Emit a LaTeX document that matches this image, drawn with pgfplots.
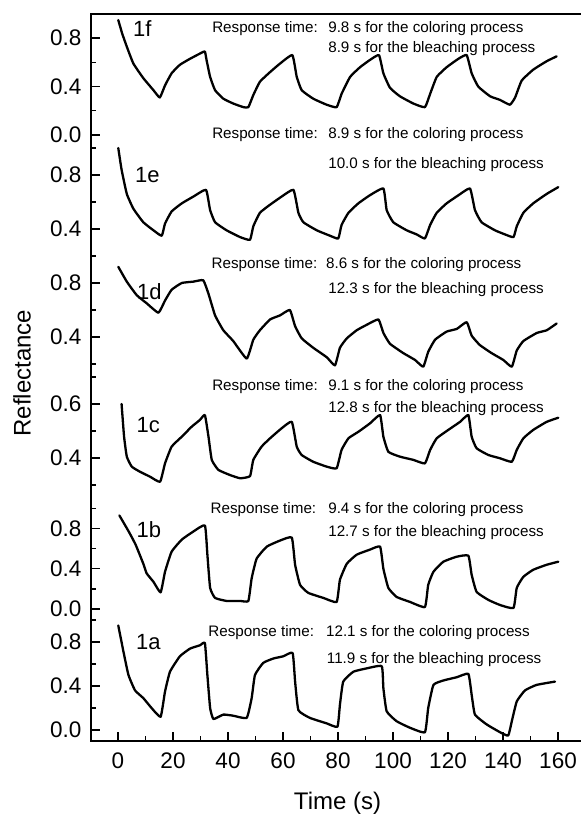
\documentclass[border=0pt]{standalone}
\usepackage{fontspec}
\setmainfont{Liberation Sans}
\usepackage{pgfplots}
\usepackage{pgfplotstable}
\pgfplotsset{compat=1.18}

\newcommand\annot{\fontsize{15.2bp}{18bp}\selectfont}
\newcommand\panel{\fontsize{22bp}{25bp}\selectfont}
\tikzset{trace/.style={black, solid, line width=2.3bp, line join=round, line cap=round, smooth, tension=0.25, mark=none}}

% reflectance vs. time, one table per film
\pgfplotstableread{
t r
0.1 0.95
1.5 0.84
3.2 0.73
5.6 0.59
9.2 0.47
12.9 0.37
15.2 0.31
17.1 0.41
19.5 0.51
22.5 0.58
26.2 0.63
30.4 0.68
31.6 0.69
32.2 0.62
33.5 0.48
35.3 0.37
38.3 0.30
41.9 0.26
45.6 0.23
47.4 0.23
49.2 0.33
51.6 0.44
55.3 0.52
58.9 0.59
63.4 0.66
65.0 0.48
66.8 0.37
71.0 0.30
75.9 0.25
79.5 0.23
81.3 0.34
84.4 0.48
88.0 0.56
91.6 0.62
94.9 0.66
96.5 0.51
98.9 0.39
102.5 0.32
107.4 0.26
111.6 0.23
113.5 0.34
115.9 0.48
119.5 0.56
123.8 0.63
126.8 0.66
128.6 0.51
131.0 0.40
135.3 0.32
138.9 0.29
142.5 0.25
144.4 0.31
146.8 0.45
151.0 0.54
155.9 0.61
159.5 0.65
}\dataF

\pgfplotstableread{
t r
0.1 1.00
1.3 0.84
3.2 0.66
5.6 0.55
9.2 0.45
12.9 0.39
15.9 0.35
17.1 0.44
19.5 0.53
23.2 0.59
27.4 0.64
32.0 0.69
33.5 0.54
35.3 0.45
39.5 0.39
44.4 0.34
48.0 0.32
49.2 0.42
51.6 0.52
55.3 0.58
59.5 0.64
63.8 0.69
65.6 0.52
67.4 0.45
72.3 0.39
77.1 0.35
80.1 0.33
81.3 0.43
83.8 0.52
87.4 0.59
91.6 0.65
96.5 0.70
97.7 0.54
100.1 0.45
105.0 0.39
108.6 0.36
111.6 0.33
113.5 0.43
115.9 0.52
119.5 0.59
123.8 0.65
128.0 0.70
129.8 0.54
132.2 0.45
137.1 0.39
140.7 0.36
143.8 0.34
145.0 0.42
147.4 0.52
151.0 0.59
155.9 0.66
160.1 0.71
}\dataE

\pgfplotstableread{
t r
0.1 0.92
3.2 0.81
6.8 0.71
10.4 0.65
14.7 0.58
17.1 0.67
19.5 0.75
23.2 0.80
27.4 0.81
31.0 0.82
32.9 0.72
35.3 0.56
38.3 0.45
41.9 0.37
46.8 0.24
49.2 0.38
51.6 0.45
55.3 0.53
58.9 0.56
62.5 0.60
64.4 0.48
66.8 0.39
71.0 0.32
75.9 0.25
78.9 0.19
80.7 0.32
83.2 0.39
86.8 0.45
90.4 0.49
94.7 0.53
96.5 0.43
98.9 0.35
103.8 0.28
108.0 0.23
111.0 0.18
112.8 0.29
115.3 0.38
119.5 0.44
123.2 0.46
126.8 0.51
128.6 0.41
131.6 0.34
135.9 0.28
140.1 0.23
143.2 0.18
145.0 0.30
147.4 0.37
152.3 0.43
155.9 0.45
159.5 0.50
}\dataD

\pgfplotstableread{
t r
1.3 0.60
2.2 0.48
3.2 0.405
5.0 0.368
8.0 0.349
11.6 0.331
15.3 0.312
17.1 0.380
19.5 0.442
23.2 0.479
26.8 0.516
29.8 0.541
31.6 0.559
32.9 0.479
34.1 0.393
36.5 0.356
40.7 0.337
44.4 0.325
48.0 0.333
49.2 0.393
52.2 0.442
55.3 0.473
59.5 0.510
63.2 0.534
65.0 0.442
66.8 0.411
71.0 0.386
75.9 0.368
79.5 0.362
81.3 0.430
83.8 0.473
87.4 0.497
91.6 0.528
95.3 0.559
96.5 0.479
98.3 0.423
102.5 0.405
107.4 0.393
111.6 0.380
113.5 0.430
115.9 0.473
120.1 0.504
124.4 0.534
127.4 0.559
128.6 0.479
130.4 0.436
134.7 0.411
138.9 0.399
143.2 0.386
145.0 0.430
147.4 0.473
151.0 0.504
155.9 0.534
160.1 0.549
}\dataC

\pgfplotstableread{
t r
0.5 0.93
3.9 0.77
6.4 0.64
9.2 0.45
10.4 0.355
12.9 0.27
15.5 0.165
17.1 0.37
19.5 0.57
23.2 0.69
27.4 0.77
31.6 0.83
32.5 0.54
33.5 0.21
35.3 0.11
39.5 0.08
44.4 0.08
47.4 0.08
48.6 0.305
50.4 0.50
54.1 0.62
58.9 0.68
63.2 0.71
64.4 0.44
66.2 0.24
69.2 0.16
74.7 0.11
79.5 0.07
80.7 0.29
83.2 0.45
86.8 0.54
91.6 0.59
95.3 0.62
96.5 0.40
98.3 0.21
101.3 0.12
106.2 0.07
111.6 0.02
112.8 0.24
114.7 0.37
118.3 0.47
123.2 0.52
127.4 0.53
128.6 0.34
130.4 0.17
134.7 0.09
138.9 0.04
143.8 0.01
145.0 0.21
147.4 0.32
151.0 0.39
155.9 0.44
160.1 0.47
}\dataB

\pgfplotstableread{
t r
0.1 0.95
2.0 0.71
3.8 0.50
6.2 0.36
9.2 0.29
12.2 0.20
15.5 0.12
17.1 0.35
18.9 0.53
22.5 0.67
26.2 0.74
29.8 0.77
31.6 0.79
32.5 0.50
33.5 0.20
34.7 0.10
38.3 0.14
41.9 0.13
46.8 0.11
48.6 0.29
49.8 0.50
52.8 0.61
56.5 0.65
60.1 0.67
63.5 0.70
64.4 0.44
65.6 0.18
69.8 0.11
75.9 0.06
79.8 0.03
80.7 0.23
81.9 0.44
85.6 0.53
90.4 0.56
95.9 0.58
96.5 0.38
97.7 0.17
101.3 0.08
106.2 0.02
111.6 -0.02
112.8 0.20
114.7 0.41
118.3 0.45
123.2 0.48
127.4 0.51
128.6 0.32
129.8 0.14
134.1 0.05
138.9 -0.02
141.9 -0.05
143.2 0.08
145.0 0.26
148.0 0.36
152.2 0.41
158.9 0.44
}\dataA

\begin{document}
\begin{tikzpicture}
\begin{axis}[
  at={(91.3bp,75bp)}, anchor=south west,
  scale only axis, width=489.7bp, height=727bp,
  xmin=-9.71, xmax=168.36, ymin=-741, ymax=-14,
  axis line style={draw=none},
  clip=false,
  tick pos=left, tick align=inside,
  xtick={0,20,...,160}, minor xtick={10,30,...,150},
  % each film sits in its own band: y = r*scale - offset
  ytick={-730,-686,-642,-609,-568.76,-528.52,-458,-404,-337,-283,-229,-175,-135,-86.6,-38.2},
  yticklabels={0.0,0.4,0.8,0.0,0.4,0.8,0.4,0.6,0.4,0.8,0.4,0.8,0.0,0.4,0.8},
  minor ytick={-708,-664,-620,-588.88,-548.64,-508.4,-485,-431,-377,-364,-310,-256,-202,-148,-110.8,-62.4},
  major tick length=9bp, minor tick length=5bp,
  every tick/.append style={black, line width=1.4bp},
  tick label style={font=\fontsize{22.5bp}{26bp}\selectfont},
  /pgf/number format/assume math mode=true,
  xticklabel style={yshift=-8.5bp},
  yticklabel style={anchor=east, inner xsep=0pt, xshift=-9.6bp},
  xlabel={Time (s)}, ylabel={Reflectance},
  label style={font=\fontsize{24bp}{27bp}\selectfont},
  xlabel style={at={(axis description cs:0.5028,-0.0949)}, anchor=base},
  ylabel style={at={(axis description cs:-0.1415,0.506)}, anchor=center},
]
\addplot[trace] table[x=t, y expr=\thisrow{r}*121-135] {\dataF};
\addplot[trace] table[x=t, y expr=\thisrow{r}*135-283] {\dataE};
\addplot[trace] table[x=t, y expr=\thisrow{r}*135-391] {\dataD};
\addplot[trace] table[x=t, y expr=\thisrow{r}*270-566] {\dataC};
\addplot[trace] table[x=t, y expr=\thisrow{r}*100.6-609] {\dataB};
\addplot[trace] table[x=t, y expr=\thisrow{r}*110-730] {\dataA};

% frame: left, top and bottom lines
\draw[line width=1.8bp, line join=miter]
  (rel axis cs:1,1) -- (rel axis cs:0,1) -- (rel axis cs:0,0) -- (rel axis cs:1,0);

% film labels
\begin{scope}[every node/.style={anchor=base west, inner sep=0pt, font=\panel}]
\node at (axis cs:5.45,-37)  {1f};
\node at (axis cs:6.18,-183) {1e};
\node at (axis cs:6.91,-300) {1d};
\node at (axis cs:6.73,-433) {1c};
\node at (axis cs:6.73,-538) {1b};
\node at (axis cs:6.55,-650) {1a};
\end{scope}

% response times
\begin{scope}[every node/.style={anchor=base west, inner sep=0pt, font=\annot}]
\node at (axis cs:34.2,-32.2)  {Response time:};
\node at (axis cs:76.4,-32.2)  {9.8 s for the coloring process};
\node at (axis cs:76.4,-52.8)  {8.9 s for the bleaching process};
\node at (axis cs:34.2,-138.8) {Response time:};
\node at (axis cs:76.4,-138.8) {8.9 s for the coloring process};
\node at (axis cs:76.4,-168.8) {10.0 s for the bleaching process};
\node at (axis cs:34.0,-268.2) {Response time:};
\node at (axis cs:75.6,-268.2) {8.6 s for the coloring process};
\node at (axis cs:76.4,-293.8) {12.3 s for the bleaching process};
\node at (axis cs:34.2,-390.5) {Response time:};
\node at (axis cs:76.4,-390.5) {9.1 s for the coloring process};
\node at (axis cs:76.4,-412.2) {12.8 s for the bleaching process};
\node at (axis cs:33.6,-513.2) {Response time:};
\node at (axis cs:76.4,-513.2) {9.4 s for the coloring process};
\node at (axis cs:76.4,-536.5) {12.7 s for the bleaching process};
\node at (axis cs:32.8,-636.5) {Response time:};
\node at (axis cs:75.6,-636.5) {12.1 s for the coloring process};
\node at (axis cs:75.9,-663.2) {11.9 s for the bleaching process};
\end{scope}
\end{axis}
\pgfresetboundingbox
\path (0,0) rectangle (581bp,816bp);
\end{tikzpicture}
\end{document}
